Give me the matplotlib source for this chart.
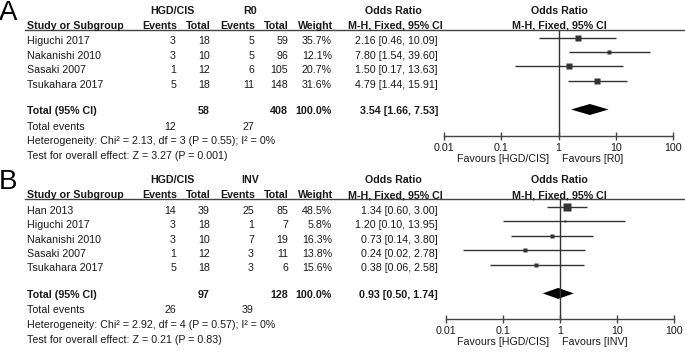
import numpy as np
import matplotlib
matplotlib.use("Agg")
import matplotlib.pyplot as plt

plt.rcParams['font.family'] = ['Liberation Sans', 'DejaVu Sans']
FS = 7.7
TXT = '#1a1a1a'
LN = '#333333'

# ---- DATA ----
a_studies = ["Higuchi 2017", "Nakanishi 2010", "Sasaki 2007", "Tsukahara 2017"]
a_ev1 = [3, 3, 1, 5]
a_n1 = [18, 10, 12, 18]
a_ev2 = [5, 5, 6, 11]
a_n2 = [59, 96, 105, 148]
a_w = [35.7, 12.1, 20.7, 31.6]
a_or = [2.16, 7.80, 1.50, 4.79]
a_lo = [0.46, 1.54, 0.17, 1.44]
a_hi = [10.09, 39.60, 13.63, 15.91]
a_tot = [58, 408]
a_tot_ev = [12, 27]
a_pool = [3.54, 1.66, 7.53]
a_het = "Heterogeneity: Chi\u00b2 = 2.13, df = 3 (P = 0.55); I\u00b2 = 0%"
a_test = "Test for overall effect: Z = 3.27 (P = 0.001)"

b_studies = ["Han 2013", "Higuchi 2017", "Nakanishi 2010", "Sasaki 2007", "Tsukahara 2017"]
b_ev1 = [14, 3, 3, 1, 5]
b_n1 = [39, 18, 10, 12, 18]
b_ev2 = [25, 1, 7, 3, 3]
b_n2 = [85, 7, 19, 11, 6]
b_w = [48.5, 5.8, 16.3, 13.8, 15.6]
b_or = [1.34, 1.20, 0.73, 0.24, 0.38]
b_lo = [0.60, 0.10, 0.14, 0.02, 0.06]
b_hi = [3.00, 13.95, 3.80, 2.78, 2.58]
b_tot = [97, 128]
b_tot_ev = [26, 39]
b_pool = [0.93, 0.50, 1.74]
b_het = "Heterogeneity: Chi\u00b2 = 2.92, df = 4 (P = 0.57); I\u00b2 = 0%"
b_test = "Test for overall effect: Z = 0.21 (P = 0.83)"

ticks = [0.01, 0.1, 1, 10, 100]
tick_labels = ["0.01", "0.1", "1", "10", "100"]

W, H = 685, 352
fig = plt.figure(figsize=(W / 100, H / 100), dpi=100)
ax = fig.add_axes([0, 0, 1, 1])
ax.set_xlim(0, W)
ax.set_ylim(H, 0)
ax.axis('off')

CAP = 3.85  # half cap height in px, text placed on baseline


def txt(x, y, s, ha='left', bold=False, size=FS):
    ax.text(x, y + CAP, s, ha=ha, va='baseline', fontsize=size,
            fontweight='bold' if bold else 'normal', color=TXT)


def panel(letter, top, studies, ev1, n1, ev2, n2, w, orr, lo, hi, tot,
          tot_ev, pool, het, test, grp2, axis_y, x0, x1):
    # column x positions (right aligned)
    cx = [176, 210, 254, 288, 332]
    or_x = 438
    ax.text(-1, top + 19.5, letter, fontsize=20, color='black', va='baseline')
    h1, h2, line_y = top + 10, top + 25, top + 29.5
    txt(172, h1, "HGD/CIS", ha='center', bold=True)
    txt(250, h1, grp2, ha='center', bold=True)
    txt(393, h1, "Odds Ratio", ha='center', bold=True)
    txt(559, h1, "Odds Ratio", ha='center', bold=True)
    txt(27, h2, "Study or Subgroup", bold=True)
    for x, s in zip(cx, ["Events", "Total", "Events", "Total", "Weight"]):
        txt(x + 1, h2, s, ha='right', bold=True)
    txt(395, h2, "M-H, Fixed, 95% CI", ha='center', bold=True)
    txt(559, h2, "M-H, Fixed, 95% CI", ha='center', bold=True)
    ax.plot([25, W], [line_y, line_y], color='#444444', lw=1)

    rows = top + 40.5 + 14.4 * np.arange(len(studies))
    for i, y in enumerate(rows):
        txt(27, y, studies[i])
        vals = [ev1[i], n1[i], ev2[i], n2[i], f"{w[i]:.1f}%"]
        for x, v in zip(cx, vals):
            txt(x, y, str(v), ha='right')
        txt(or_x, y, f"{orr[i]:.2f} [{lo[i]:.2f}, {hi[i]:.2f}]", ha='right')

    ty = rows[-1] + 26.3
    txt(27, ty, "Total (95% CI)", bold=True)
    txt(cx[1], ty, str(tot[0]), ha='right', bold=True)
    txt(cx[3], ty, str(tot[1]), ha='right', bold=True)
    txt(cx[4], ty, "100.0%", ha='right', bold=True)
    txt(or_x, ty, f"{pool[0]:.2f} [{pool[1]:.2f}, {pool[2]:.2f}]", ha='right', bold=True)
    txt(27, ty + 15.7, "Total events")
    txt(cx[0], ty + 15.7, str(tot_ev[0]), ha='right')
    txt(cx[2], ty + 15.7, str(tot_ev[1]), ha='right')
    txt(27, ty + 30.5, het)
    txt(27, ty + 45.5, test)

    # forest plot axes: y data in pixel units
    fx = fig.add_axes([x0 / W, 1 - axis_y / H, (x1 - x0) / W, (axis_y - line_y) / H])
    fx.set_xscale('log')
    fx.set_xlim(0.01, 100)
    fx.set_ylim(axis_y, line_y)
    fx.patch.set_alpha(0)
    for s in ['top', 'left', 'right']:
        fx.spines[s].set_visible(False)
    fx.spines['bottom'].set_color('#444444')
    fx.spines['bottom'].set_linewidth(1)
    fx.set_yticks([])
    fx.set_xticks(ticks)
    fx.set_xticklabels(tick_labels)
    fx.minorticks_off()
    fx.tick_params(axis='x', direction='inout', length=6, width=1,
                   colors='#444444', labelcolor=TXT, labelsize=FS, pad=2)
    fx.axvline(1, color=LN, lw=1)
    my = rows - 3
    fx.hlines(my, lo, hi, color=LN, lw=1, clip_on=False)
    for i in range(len(studies)):
        fx.plot(orr[i], my[i], marker='s', color='#333333', mec='none',
                ms=1.15 * np.sqrt(w[i]) * 0.72, clip_on=False)
    dh = 5.5
    fx.fill([pool[1], pool[0], pool[2], pool[0]],
            [ty - 0.5, ty - 0.5 - dh, ty - 0.5, ty - 0.5 + dh],
            color='black', lw=0)
    fy = axis_y + 22
    ax.text(549, fy + CAP, "Favours [HGD/CIS]", ha='right', va='baseline',
            fontsize=FS, color=TXT)
    ax.text(562, fy + CAP, f"Favours [{grp2}]", ha='left', va='baseline',
            fontsize=FS, color=TXT)


panel("A", 0, a_studies, a_ev1, a_n1, a_ev2, a_n2, a_w, a_or, a_lo, a_hi,
      a_tot, a_tot_ev, a_pool, a_het, a_test, "R0", 136, 444.3, 672.7)
panel("B", 169.5, b_studies, b_ev1, b_n1, b_ev2, b_n2, b_w, b_or, b_lo, b_hi,
      b_tot, b_tot_ev, b_pool, b_het, b_test, "INV", 319, 445.7, 674.3)

fig.savefig("out.png", dpi=100)
